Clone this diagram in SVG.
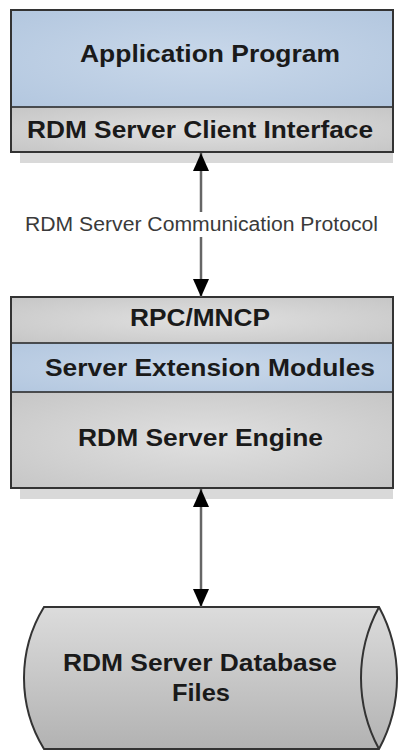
<svg xmlns="http://www.w3.org/2000/svg" width="400" height="751" viewBox="0 0 400 751">
<defs>
<radialGradient id="gBlue" cx="0.5" cy="0.5" r="0.7">
<stop offset="0" stop-color="#c9d8ea"/>
<stop offset="1" stop-color="#b3c7df"/>
</radialGradient>
<radialGradient id="gGray" cx="0.5" cy="0.5" r="0.7">
<stop offset="0" stop-color="#e0e0e0"/>
<stop offset="1" stop-color="#c6c6c6"/>
</radialGradient>
<linearGradient id="gCyl" x1="0" y1="0" x2="0" y2="1">
<stop offset="0" stop-color="#dcdcdc"/>
<stop offset="1" stop-color="#b2b2b2"/>
</linearGradient>
<marker id="ah" viewBox="0 0 18 18" refX="18" refY="9" markerWidth="18" markerHeight="18" markerUnits="userSpaceOnUse" orient="auto-start-reverse">
<path d="M0,1 L18,9 L0,17 Z" fill="#000"/>
</marker>
</defs>
<style>
.box{stroke:#333;stroke-width:2}
.div{stroke:#222;stroke-width:1.5}
.shadow{fill:#d9d9d9}
.t{font-family:"Liberation Sans",Arial,sans-serif;font-weight:bold;font-size:23px;fill:#1a1a1a;text-anchor:middle}
.lbl{font-family:"Liberation Sans",Arial,sans-serif;font-size:20px;fill:#3a3a3a;text-anchor:middle}
.conn{stroke:#666;stroke-width:2.5;fill:none}
</style>
<rect width="400" height="751" fill="#fff"/>

<g id="client">
<rect class="shadow" x="20" y="20" width="373" height="143"/>
<rect x="11" y="10" width="382" height="97" fill="url(#gBlue)"/>
<rect x="11" y="107" width="382" height="45" fill="url(#gGray)"/>
<line class="div" x1="11" y1="107" x2="393" y2="107"/>
<rect class="box" x="11" y="10" width="382" height="142" fill="none"/>
<text class="t" x="210" y="62" textLength="260" lengthAdjust="spacingAndGlyphs">Application Program</text>
<text class="t" x="200" y="138" textLength="346" lengthAdjust="spacingAndGlyphs">RDM Server Client Interface</text>
</g>

<g id="server">
<rect class="shadow" x="20" y="307" width="373" height="192"/>
<rect x="11" y="297" width="382" height="46" fill="url(#gGray)"/>
<rect x="11" y="343" width="382" height="49" fill="url(#gBlue)"/>
<rect x="11" y="392" width="382" height="96" fill="url(#gGray)"/>
<line class="div" x1="11" y1="343" x2="393" y2="343"/>
<line class="div" x1="11" y1="392" x2="393" y2="392"/>
<rect class="box" x="11" y="297" width="382" height="191" fill="none"/>
<text class="t" x="200" y="326" textLength="140" lengthAdjust="spacingAndGlyphs">RPC/MNCP</text>
<text class="t" x="210" y="376" textLength="330" lengthAdjust="spacingAndGlyphs">Server Extension Modules</text>
<text class="t" x="200.5" y="446" textLength="245" lengthAdjust="spacingAndGlyphs">RDM Server Engine</text>
</g>

<g id="database">
<path class="box" d="M44,607 L379,607 A149,149 0 0 1 379,749 L44,749 A136,136 0 0 1 44,607 Z" fill="url(#gCyl)"/>
<path class="box" d="M379,607 A149,149 0 0 0 379,749" fill="none"/>
<text class="t" x="200" y="671" textLength="274" lengthAdjust="spacingAndGlyphs">RDM Server Database</text>
<text class="t" x="201" y="701" textLength="58" lengthAdjust="spacingAndGlyphs">Files</text>
</g>

<g id="connectors">
<line class="conn" x1="201" y1="212" x2="201" y2="153" marker-end="url(#ah)"/>
<line class="conn" x1="201" y1="237" x2="201" y2="297" marker-end="url(#ah)"/>
<text class="lbl" x="201.5" y="231" textLength="353" lengthAdjust="spacingAndGlyphs">RDM Server Communication Protocol</text>
<line class="conn" x1="201" y1="489" x2="201" y2="607" marker-start="url(#ah)" marker-end="url(#ah)"/>
</g>
</svg>
